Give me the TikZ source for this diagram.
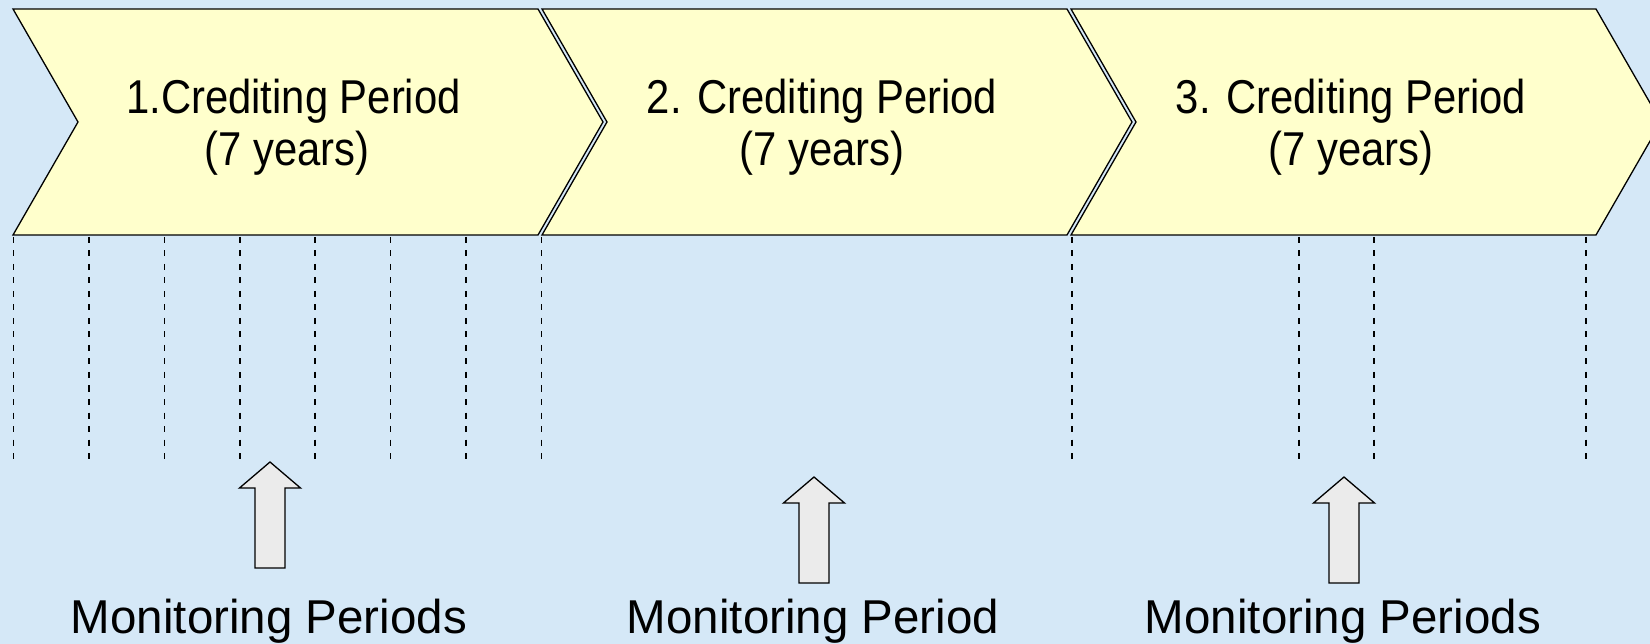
\documentclass[tikz,border=0pt]{standalone}
\usepackage{fontspec}
\setmainfont{Liberation Sans}
\usepackage{graphicx}
\definecolor{bgblue}{RGB}{213,232,247}
\definecolor{chevfill}{RGB}{255,255,204}
\definecolor{arrfill}{RGB}{235,235,235}
\newcommand\condtxt[1]{\scalebox{0.88}[1]{#1}}
\begin{document}
\begin{tikzpicture}[x=1pt,y=-1pt,
  chevron/.style={draw=black, fill=chevfill, line width=1.3pt, line join=miter},
  tickline/.style={draw=black, line width=1.6pt, dash pattern=on 6pt off 7.5pt},
  uparrow/.style={draw=black, fill=arrfill, line width=1.3pt, line join=miter},
  titletext/.style={font=\fontsize{47.5}{52.4}\selectfont, align=center, inner sep=0pt, anchor=base},
  labeltext/.style={font=\fontsize{47.5}{56}\selectfont, inner sep=0pt, anchor=base}]
\useasboundingbox (0,0) rectangle (1650,644);
\fill[bgblue] (0,0) rectangle (1650,644);
\clip (0,0) rectangle (1650,644);
% chevrons
\foreach \o in {0,529,1058} {
  \draw[chevron] (13+\o,9) -- (538+\o,9) -- (603+\o,122) -- (538+\o,235)
     -- (13+\o,235) -- (78+\o,122) -- cycle;
}
% titles (anchor base = baseline of the last line)
\node[titletext] (t1) at (293.5,166) {\condtxt{1.Crediting Period}\\\condtxt{(7 years)}\hspace*{13pt}};
\node[titletext] (t2) at (822,166) {\condtxt{2. Crediting Period}\\\condtxt{(7 years)}};
\node[titletext] (t3) at (1351,166) {\condtxt{3. Crediting Period}\\\condtxt{(7 years)}};
% dashed year marks
\foreach \x in {13.6,88.9,164.3,239.7,315.1,390.5,465.9,541.5,1072,1298.7,1374.2,1586.2} {
  \draw[tickline] (\x,237) -- (\x,462);
}
% up arrows
\foreach \cx/\ty in {270/462, 814/477, 1344/477} {
  \draw[uparrow] (\cx,\ty) -- (\cx+30.5,\ty+26) -- (\cx+15,\ty+26) -- (\cx+15,\ty+106)
     -- (\cx-15,\ty+106) -- (\cx-15,\ty+26) -- (\cx-30.5,\ty+26) -- cycle;
}
% labels
\node[labeltext] (m1) at (269,633) {Monitoring Periods};
\node[labeltext] (m2) at (813,633) {Monitoring Period};
\node[labeltext] (m3) at (1343,633) {Monitoring Periods};
\end{tikzpicture}
\end{document}
